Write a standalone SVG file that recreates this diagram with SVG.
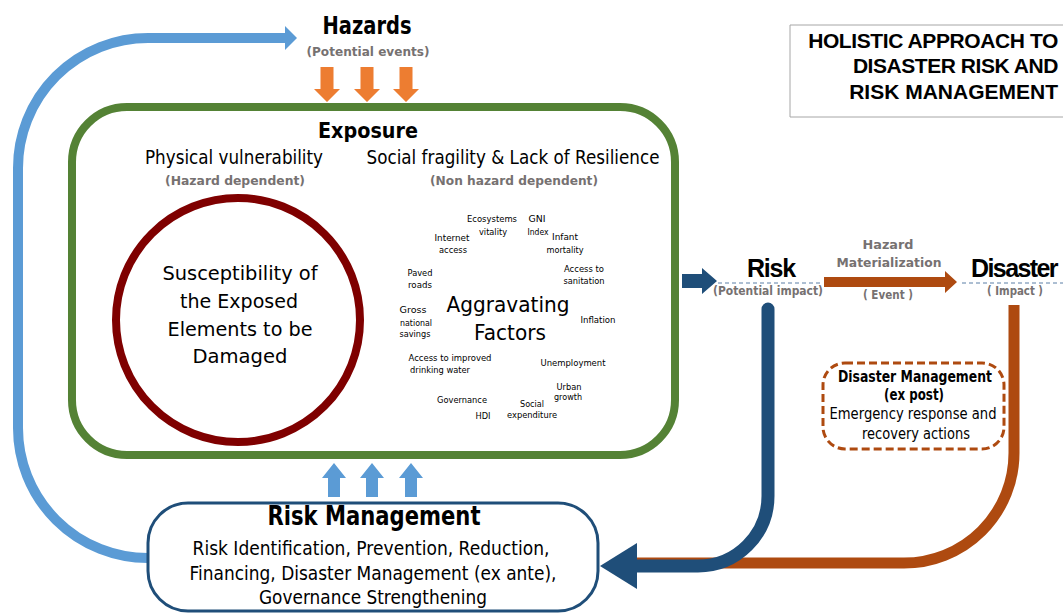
<svg xmlns="http://www.w3.org/2000/svg" width="1063" height="615" viewBox="0 0 1063 615">
<style>
text{font-family:"DejaVu Sans","Liberation Sans",sans-serif;fill:#000;text-anchor:middle}
.b{font-weight:bold}
.g{fill:#767171;font-weight:bold;font-size:13px}
.s{font-size:9.5px}
.big{font-family:"Liberation Sans",Arial,sans-serif;font-weight:bold;font-size:25px;letter-spacing:-1.2px}
.t{font-family:"Liberation Sans",Arial,sans-serif;font-weight:bold;font-size:21px;text-anchor:end}
.r{font-size:19px}
</style>
<defs>
<path id="down" d="M-6.5,67 H6.5 V89 H13 L0,102 L-13,89 H-6.5 Z" fill="#ed7d31"/>
<path id="up" d="M-6,497 H6 V478 H12 L0,463 L-12,478 H-6 Z" fill="#5b9bd5"/>
</defs>
<rect width="1063" height="615" fill="#fff"/>

<g id="connectors">
<path d="M150,558 H148 A130,130 0 0 1 18,428 V168 A130,130 0 0 1 148,38 H287" fill="none" stroke="#5b9bd5" stroke-width="10"/>
<polygon points="285,26 297,38 285,50" fill="#5b9bd5"/>
<use href="#down" x="327"/>
<use href="#down" x="367"/>
<use href="#down" x="406"/>
<use href="#up" x="334"/>
<use href="#up" x="372"/>
<use href="#up" x="411"/>
<path d="M682,274 H702 V268 L717,281 L702,294 V288 H682 Z" fill="#1f4e79"/>
<path d="M824,277 H945 V271 L957,282 L945,293 V287 H824 Z" fill="#ae4a10"/>
<path d="M1014,305 V453 A110,110 0 0 1 904,563 H637" fill="none" stroke="#ae4a10" stroke-width="11"/>
<path d="M768,309 V496 A70,70 0 0 1 698,566 H636" fill="none" stroke="#1f4e79" stroke-width="13" stroke-linecap="round"/>
<polygon points="637,543 637,589 600,566" fill="#1f4e79"/>
<line x1="718" y1="283" x2="822" y2="283" stroke="#5b7fa6" stroke-width="1" stroke-dasharray="4,3"/>
<line x1="962" y1="283" x2="1063" y2="283" stroke="#5b7fa6" stroke-width="1" stroke-dasharray="4,3"/>
</g>

<g id="hazards">
<text x="367" y="34" class="b" font-size="24" textLength="89" lengthAdjust="spacingAndGlyphs">Hazards</text>
<text x="368" y="56" class="g" textLength="123" lengthAdjust="spacingAndGlyphs">(Potential events)</text>
</g>

<g id="exposure">
<rect x="72" y="107" width="603" height="348" rx="55" fill="none" stroke="#548235" stroke-width="8"/>
<text x="368" y="138" class="b" font-size="22" textLength="100" lengthAdjust="spacingAndGlyphs">Exposure</text>
<text x="234" y="164" class="r" textLength="178" lengthAdjust="spacingAndGlyphs">Physical vulnerability</text>
<text x="235" y="185" class="g" textLength="140" lengthAdjust="spacingAndGlyphs">(Hazard dependent)</text>
<text x="513" y="164" class="r" textLength="293" lengthAdjust="spacingAndGlyphs">Social fragility &amp; Lack of Resilience</text>
<text x="514" y="185" class="g" textLength="168" lengthAdjust="spacingAndGlyphs">(Non hazard dependent)</text>
</g>

<g id="susceptibility">
<circle cx="238" cy="320" r="122" fill="none" stroke="#7f0000" stroke-width="8"/>
<text x="240" y="280" font-size="20" textLength="155" lengthAdjust="spacingAndGlyphs">Susceptibility of</text>
<text x="239" y="308" font-size="20" textLength="118" lengthAdjust="spacingAndGlyphs">the Exposed</text>
<text x="240" y="336" font-size="20" textLength="145" lengthAdjust="spacingAndGlyphs">Elements to be</text>
<text x="240" y="363" font-size="20" textLength="95" lengthAdjust="spacingAndGlyphs">Damaged</text>
</g>

<g id="aggravating">
<text x="508" y="312" font-size="22" textLength="123" lengthAdjust="spacingAndGlyphs">Aggravating</text>
<text x="510" y="340" font-size="22" textLength="72" lengthAdjust="spacingAndGlyphs">Factors</text>
<text x="492" y="222" class="s" textLength="50" lengthAdjust="spacingAndGlyphs">Ecosystems</text>
<text x="493" y="235" class="s" textLength="28" lengthAdjust="spacingAndGlyphs">vitality</text>
<text x="537" y="222" class="s" textLength="17" lengthAdjust="spacingAndGlyphs">GNI</text>
<text x="538" y="235" class="s" textLength="21" lengthAdjust="spacingAndGlyphs">Index</text>
<text x="452" y="241" class="s" textLength="35" lengthAdjust="spacingAndGlyphs">Internet</text>
<text x="453" y="253" class="s" textLength="28" lengthAdjust="spacingAndGlyphs">access</text>
<text x="565" y="240" class="s" textLength="26" lengthAdjust="spacingAndGlyphs">Infant</text>
<text x="565" y="253" class="s" textLength="37" lengthAdjust="spacingAndGlyphs">mortality</text>
<text x="420" y="276" class="s" textLength="25" lengthAdjust="spacingAndGlyphs">Paved</text>
<text x="420" y="288" class="s" textLength="24" lengthAdjust="spacingAndGlyphs">roads</text>
<text x="584" y="272" class="s" textLength="40" lengthAdjust="spacingAndGlyphs">Access to</text>
<text x="584" y="284" class="s" textLength="41" lengthAdjust="spacingAndGlyphs">sanitation</text>
<text x="413" y="313" class="s" textLength="27" lengthAdjust="spacingAndGlyphs">Gross</text>
<text x="416" y="326" class="s" textLength="32" lengthAdjust="spacingAndGlyphs">national</text>
<text x="415" y="337" class="s" textLength="31" lengthAdjust="spacingAndGlyphs">savings</text>
<text x="598" y="323" class="s" textLength="35" lengthAdjust="spacingAndGlyphs">Inflation</text>
<text x="450" y="361" class="s" textLength="83" lengthAdjust="spacingAndGlyphs">Access to improved</text>
<text x="440" y="373" class="s" textLength="60" lengthAdjust="spacingAndGlyphs">drinking water</text>
<text x="573" y="366" class="s" textLength="65" lengthAdjust="spacingAndGlyphs">Unemployment</text>
<text x="569" y="390" class="s" textLength="25" lengthAdjust="spacingAndGlyphs">Urban</text>
<text x="568" y="400" class="s" textLength="28" lengthAdjust="spacingAndGlyphs">growth</text>
<text x="462" y="403" class="s" textLength="50" lengthAdjust="spacingAndGlyphs">Governance</text>
<text x="532" y="407" class="s" textLength="24" lengthAdjust="spacingAndGlyphs">Social</text>
<text x="532" y="418" class="s" textLength="50" lengthAdjust="spacingAndGlyphs">expenditure</text>
<text x="483" y="419" class="s" textLength="15" lengthAdjust="spacingAndGlyphs">HDI</text>
</g>

<g id="risk">
<text x="771" y="277" class="big">Risk</text>
<text x="768" y="295" class="g" textLength="110" lengthAdjust="spacingAndGlyphs">(Potential impact)</text>
</g>

<g id="hazard-materialization">
<text x="888" y="249" class="g" font-size="14" textLength="51" lengthAdjust="spacingAndGlyphs">Hazard</text>
<text x="889" y="267" class="g" font-size="14" textLength="105" lengthAdjust="spacingAndGlyphs">Materialization</text>
<text x="888" y="299" class="g" textLength="50" lengthAdjust="spacingAndGlyphs">( Event )</text>
</g>

<g id="disaster">
<text x="1014" y="277" class="big" style="letter-spacing:-1.6px">Disaster</text>
<text x="1015" y="295" class="g" textLength="56" lengthAdjust="spacingAndGlyphs">( Impact )</text>
</g>

<g id="disaster-management">
<rect x="823" y="363" width="181" height="86" rx="22" fill="#fff" stroke="#ae4a10" stroke-width="3" stroke-dasharray="8,4"/>
<text x="915" y="382" class="b" font-size="15" textLength="154" lengthAdjust="spacingAndGlyphs">Disaster Management</text>
<text x="914" y="400" class="b" font-size="15" textLength="60" lengthAdjust="spacingAndGlyphs">(ex post)</text>
<text x="913" y="419" font-size="15" textLength="167" lengthAdjust="spacingAndGlyphs">Emergency response and</text>
<text x="916" y="439" font-size="15" textLength="108" lengthAdjust="spacingAndGlyphs">recovery actions</text>
</g>

<g id="risk-management">
<rect x="148" y="503" width="450" height="108" rx="40" fill="#fff" stroke="#1f4e79" stroke-width="3"/>
<text x="374" y="525" class="b" font-size="26" textLength="213" lengthAdjust="spacingAndGlyphs">Risk Management</text>
<text x="371" y="555" class="r" textLength="357" lengthAdjust="spacingAndGlyphs">Risk Identification, Prevention, Reduction,</text>
<text x="373" y="580" class="r" textLength="367" lengthAdjust="spacingAndGlyphs">Financing, Disaster Management (ex ante),</text>
<text x="373" y="604" class="r" textLength="228" lengthAdjust="spacingAndGlyphs">Governance Strengthening</text>
</g>

<g id="title">
<path d="M1063,25 H790 V117 H1063" fill="none" stroke="#a6a6a6" stroke-width="1"/>
<text x="1058" y="48" class="t" style="letter-spacing:-0.4px">HOLISTIC APPROACH TO</text>
<text x="1058" y="73" class="t" style="letter-spacing:-0.45px">DISASTER RISK AND</text>
<text x="1058" y="99" class="t" style="letter-spacing:0px">RISK MANAGEMENT</text>
</g>
</svg>
